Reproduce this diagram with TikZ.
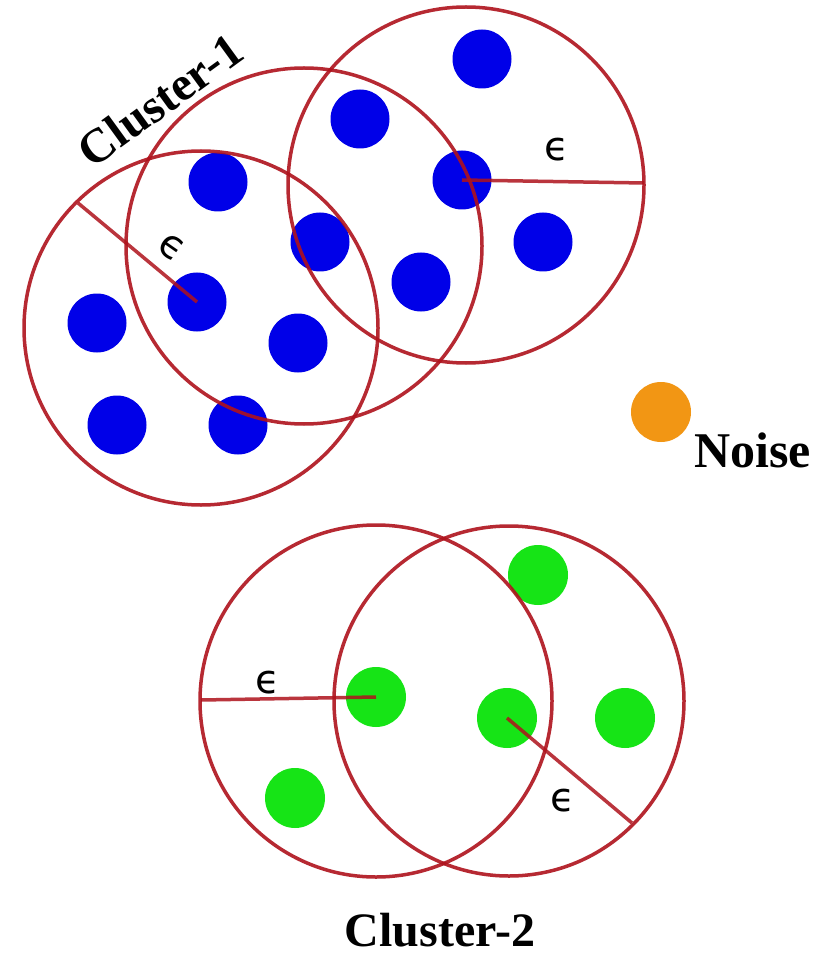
\documentclass[tikz,border=0pt]{standalone}
\usepackage{fontspec}
\setmainfont{Liberation Serif}
\newfontfamily\epsfont{DejaVu Sans}
\definecolor{ringred}{RGB}{175,18,28}
\definecolor{dotblue}{RGB}{0,0,232}
\definecolor{dotgreen}{RGB}{22,228,22}
\definecolor{dotorange}{RGB}{242,150,20}
\begin{document}
\begin{tikzpicture}[x=1pt,y=-1pt,
  ring/.style={draw=ringred,line width=3.5pt,draw opacity=0.9},
  radius line/.style={draw=ringred,line width=3.5pt,draw opacity=0.85},
  bluedot/.style={circle,fill=dotblue,minimum size=59pt,inner sep=0pt},
  greendot/.style={circle,fill=dotgreen,minimum size=60pt,inner sep=0pt},
  orangedot/.style={circle,fill=dotorange,minimum size=60pt,inner sep=0pt},
  epslabel/.style={font=\epsfont\fontsize{40}{40}\selectfont,inner sep=0pt},
  title/.style={font=\bfseries\fontsize{48}{48}\selectfont,inner sep=0pt}]
\useasboundingbox (0,0) rectangle (834,957);
\fill[white] (0,0) rectangle (834,957);
% blue dots (cluster 1)
\node[bluedot] (b1) at (482,59) {};
\node[bluedot] (b2) at (360,119) {};
\node[bluedot] (b3) at (218,182) {};
\node[bluedot] (b4) at (462,180) {};
\node[bluedot] (b5) at (320,242) {};
\node[bluedot] (b6) at (543,242) {};
\node[bluedot] (b7) at (421,282) {};
\node[bluedot] (b8) at (97,323) {};
\node[bluedot] (b9) at (197,302) {};
\node[bluedot] (b10) at (298,343) {};
\node[bluedot] (b11) at (117,425) {};
\node[bluedot] (b12) at (238,425) {};
% green dots (cluster 2)
\node[greendot] (g1) at (538,575) {};
\node[greendot] (g2) at (376,697) {};
\node[greendot] (g3) at (507,718) {};
\node[greendot] (g4) at (625,718) {};
\node[greendot] (g5) at (295,798) {};
% noise
\node[orangedot] (n1) at (661,412) {};
% circles
\draw[ring] (201,328) circle[radius=177];
\draw[ring] (304,246) circle[radius=178];
\draw[ring] (466,185) circle[radius=178];
\draw[ring] (376,701) circle[radius=176];
\draw[ring] (509,701) circle[radius=175];
% radius lines
\coordinate (ea) at (78,203);
\coordinate (ec) at (644,183);
\coordinate (ed) at (201,700);
\coordinate (ee) at (632,823);
\draw[radius line] (b9.center) -- (ea);
\draw[radius line] (b4.center) -- (ec);
\draw[radius line] (g2.center) -- (ed);
\draw[radius line] (g3.center) -- (ee);
% epsilon labels
\node[epslabel,rotate=-35] (la) at (172,248) {ϵ};
\node[epslabel] (lc) at (557,150) {ϵ};
\node[epslabel] (ld) at (268,683) {ϵ};
\node[epslabel] (le) at (563,801) {ϵ};
% titles
\node[title,rotate=36] (c1) at (160,100) {Cluster-1};
\node[title] (c2) at (440,930) {Cluster-2};
\node[title,anchor=base west,font=\bfseries\fontsize{50}{50}\selectfont] (nz) at (694,467) {Noise};
\end{tikzpicture}
\end{document}
